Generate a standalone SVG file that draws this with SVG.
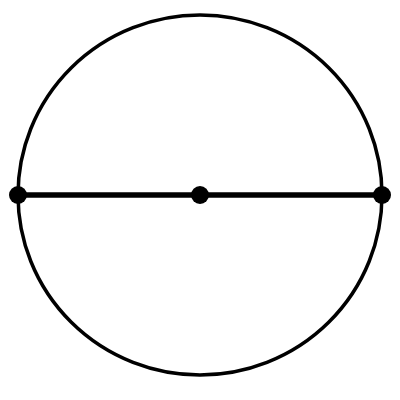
<svg xmlns="http://www.w3.org/2000/svg" width="400" height="400" viewBox="0 0 400 400">
<style>.dot{fill:#000}</style>
<rect width="400" height="400" fill="#fff"/>
<g id="circle"><ellipse cx="200" cy="195" rx="182" ry="180" fill="none" stroke="#000" stroke-width="3.5"/></g>
<g id="connectors"><line x1="18" y1="195" x2="382" y2="195" stroke="#000" stroke-width="5.5"/></g>
<g id="left"><circle class="dot" cx="18" cy="195" r="9"/></g>
<g id="center"><circle class="dot" cx="200" cy="195" r="9"/></g>
<g id="right"><circle class="dot" cx="382" cy="195" r="9"/></g>
</svg>
